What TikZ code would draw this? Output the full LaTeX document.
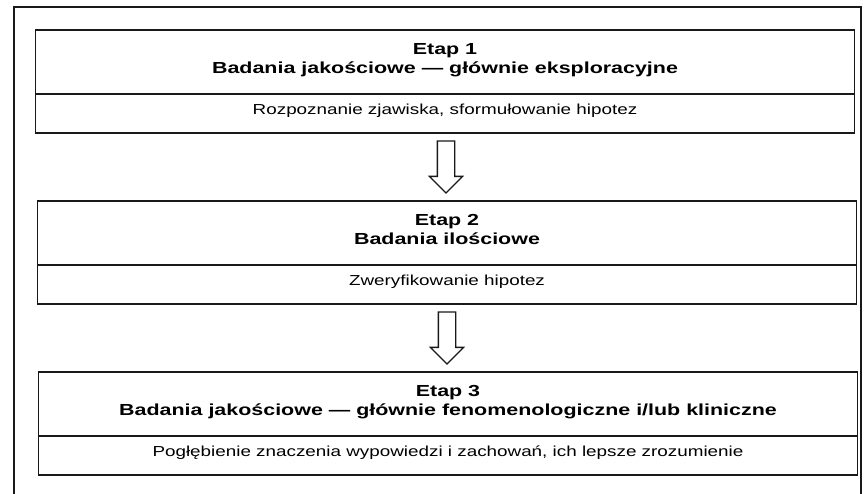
\documentclass[tikz,border=0pt]{standalone}
\usepackage{fontspec}
\setmainfont{Liberation Sans}
\newfontfamily\etapfont[FakeStretch=1.34]{Liberation Sans Bold}
\newfontfamily\opisfont[FakeStretch=1.3]{Liberation Sans}
\usetikzlibrary{positioning,shapes.arrows}

\begin{document}
\begin{tikzpicture}[x=1pt,y=-1pt]
  \useasboundingbox (0,0) rectangle (864,493);
  \tikzset{
    naglowek/.style={draw=black!90,line width=1.8pt,outer sep=0pt,inner sep=0pt,
      minimum width=819pt,minimum height=64pt,align=center,text depth=8pt,
      font=\etapfont\fontsize{16}{19}\selectfont},
    opis/.style={draw=black!90,line width=1.8pt,outer sep=0pt,inner sep=0pt,
      minimum width=819pt,minimum height=39pt,text depth=8pt,
      font=\opisfont\fontsize{14.5}{17}\selectfont},
    strzalka/.style={draw=black!90,line width=1.3pt,single arrow,rotate=-90,
      inner xsep=0pt,inner ysep=8pt,single arrow head extend=8pt,
      minimum height=52pt,outer sep=0pt}
  }
  % ramka strony
  \draw[draw=black!90,line width=1.8pt] (14,500) -- (14,7) -- (861,7) -- (861,500);
  % etap 1
  \node[naglowek,anchor=north] (etap1) at (445,30)
    {Etap 1\\Badania jakościowe — głównie eksploracyjne};
  \node[opis,below=0pt of etap1] (opis1) {Rozpoznanie zjawiska, sformułowanie hipotez};
  \node[strzalka,anchor=tail] (strzalka1) at ([xshift=1pt,yshift=-8pt]opis1.south) {};
  % etap 2
  \node[naglowek,anchor=north] (etap2) at ([xshift=1pt,yshift=-8pt]strzalka1.tip)
    {Etap 2\\Badania ilościowe};
  \node[opis,below=0pt of etap2] (opis2) {Zweryfikowanie hipotez};
  \node[strzalka,anchor=tail] (strzalka2) at ([yshift=-8pt]opis2.south) {};
  % etap 3
  \node[naglowek,anchor=north] (etap3) at ([xshift=1pt,yshift=-8pt]strzalka2.tip)
    {Etap 3\\Badania jakościowe — głównie fenomenologiczne i/lub kliniczne};
  \node[opis,below=0pt of etap3] (opis3)
    {Pogłębienie znaczenia wypowiedzi i zachowań, ich lepsze zrozumienie};
\end{tikzpicture}
\end{document}
